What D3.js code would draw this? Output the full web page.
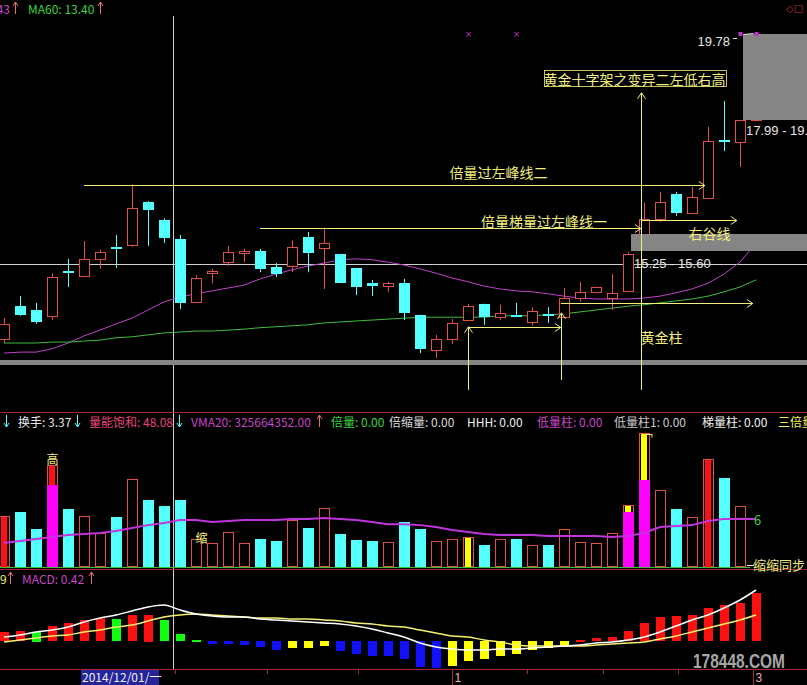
<!DOCTYPE html>
<html>
<head>
<meta charset="utf-8">
<script src="https://cdn.jsdelivr.net/npm/d3@7"></script>
<style>
body { margin: 0; background: #000; overflow: hidden; }
svg { display: block; }
text { font-family: "Noto Sans CJK SC", "Liberation Sans", sans-serif; }
</style>
</head>
<body>
<svg id="chart" width="807" height="685"></svg>
<script>
// daily candles (last one is the limit-up day hidden under the price box)
var open  = [13.40,14.09,14.01,13.89,14.83,14.72,15.08,15.33,15.37,16.27,15.89,15.50,14.18,14.78,15.01,15.20,15.24,14.91,14.93,15.54,15.31,15.18,14.89,14.57,14.51,14.57,13.91,13.17,13.40,13.80,14.14,13.86,13.91,13.76,13.93,13.86,14.26,14.39,14.26,14.41,15.58,15.91,16.44,16.04,16.35,17.56,17.52,17.99];
var high  = [13.84,14.30,14.16,14.78,15.08,15.45,15.27,15.58,16.64,16.29,15.93,15.58,14.74,14.87,15.35,15.29,15.29,14.99,15.47,15.64,15.73,15.18,14.89,14.64,14.60,14.66,13.91,13.49,13.82,14.14,14.14,14.12,14.16,14.07,14.07,14.47,14.60,14.49,14.76,15.22,16.25,16.48,16.48,16.58,17.84,18.38,17.98,19.78];
var low   = [13.32,13.89,13.72,13.80,14.49,14.72,14.87,14.89,15.33,15.35,15.41,14.03,14.18,14.57,14.93,15.01,14.80,14.70,14.80,14.80,14.45,14.57,14.32,14.30,14.39,13.80,13.11,13.01,13.30,13.78,13.70,13.80,13.86,13.68,13.74,13.86,14.18,14.39,14.01,14.41,15.58,15.85,15.98,16.04,16.35,17.33,17.00,17.99];
var close = [13.72,13.91,13.76,14.70,14.78,15.08,15.22,15.31,16.14,16.10,15.52,14.16,14.68,14.83,15.22,15.24,14.87,14.76,15.33,15.20,15.41,14.57,14.49,14.51,14.57,13.95,13.20,13.40,13.74,14.09,13.86,13.95,13.86,13.99,13.89,14.26,14.39,14.49,14.37,15.18,15.91,16.27,16.04,16.37,17.54,17.52,17.98,19.78];
var ma20  = [13.11,13.13,13.13,13.20,13.32,13.47,13.59,13.72,13.84,14.01,14.18,14.28,14.35,14.41,14.47,14.53,14.66,14.76,14.85,14.93,14.99,15.06,15.08,15.06,15.01,14.95,14.87,14.78,14.68,14.60,14.51,14.45,14.41,14.39,14.35,14.30,14.26,14.24,14.24,14.24,14.26,14.30,14.37,14.45,14.57,14.76,15.01,15.41];
var ma60  = [13.32,13.32,13.32,13.34,13.34,13.36,13.38,13.43,13.45,13.49,13.53,13.55,13.57,13.57,13.59,13.61,13.64,13.66,13.68,13.70,13.74,13.76,13.78,13.80,13.82,13.84,13.86,13.86,13.86,13.86,13.86,13.89,13.89,13.89,13.91,13.93,13.97,14.01,14.05,14.09,14.12,14.16,14.20,14.24,14.30,14.39,14.49,14.64];

// volume, millions of shares
var vol   = [361,389,269,722,411,361,241,354,623,474,432,474,198,170,248,170,198,184,333,276,418,234,191,184,177,319,269,184,198,212,156,198,198,156,156,269,177,170,241,439,949,545,411,354,765,630,432,null];
var vma20 = [170,184,198,212,227,234,241,255,276,297,312,333,333,319,326,333,333,333,340,340,347,340,333,319,304,304,297,283,262,248,234,227,227,227,219,219,219,219,212,219,241,283,290,297,326,340,340,340];
// volume signals: index -> kind, and level of the magenta part
var volSignal = { 0: "red", 3: "high", 29: "yellow", 39: "gold", 40: "gold", 44: "red" };
var volSplit  = { 3: 581, 39: 389, 40: 616 };

// MACD
var macd = [0.18,0.20,0.19,0.30,0.36,0.42,0.46,0.44,0.52,0.53,0.42,0.14,0.02,-0.05,-0.06,-0.07,-0.12,-0.18,-0.14,-0.13,-0.10,-0.20,-0.26,-0.29,-0.30,-0.36,-0.52,-0.54,-0.50,-0.40,-0.36,-0.30,-0.26,-0.18,-0.14,-0.08,0.02,0.06,0.08,0.20,0.36,0.48,0.50,0.52,0.66,0.72,0.76,0.96];
var dif  = [0.08,0.12,0.18,0.22,0.28,0.38,0.46,0.52,0.60,0.68,0.72,0.62,0.54,0.50,0.48,0.48,0.44,0.42,0.40,0.38,0.36,0.34,0.30,0.24,0.16,0.08,-0.04,-0.12,-0.16,-0.18,-0.18,-0.16,-0.16,-0.14,-0.12,-0.10,-0.08,-0.04,-0.02,0.02,0.08,0.18,0.30,0.42,0.52,0.66,0.82,1.02];
var dea  = [-0.02,0.02,0.06,0.10,0.12,0.18,0.22,0.28,0.32,0.40,0.48,0.52,0.54,0.52,0.50,0.48,0.46,0.46,0.44,0.44,0.42,0.40,0.36,0.34,0.30,0.28,0.22,0.16,0.10,0.08,0.02,-0.02,-0.08,-0.10,-0.10,-0.10,-0.10,-0.08,-0.06,-0.04,-0.02,0.04,0.10,0.18,0.26,0.34,0.42,0.52];

// drawn studies (bar index, price)
var guideLines = [
    { from: 5, to: 43.8, price: 16.62 },
    { from: 16, to: 39.8, price: 15.73 },
    { from: 39.8, to: 45.8, price: 15.89 },
    { from: 34.8, to: 46.8, price: 14.16 },
    { from: 29, to: 34.8, price: 13.66 }
];
var upArrows = [
    { at: 29, from: 12.34, to: 13.66 },
    { at: 34.8, from: 12.55, to: 13.95 },
    { at: 39.8, from: 12.34, to: 18.55 }
];
var notes = [
    { text: "倍量过左峰线二", at: 30.9, price: 16.89 },
    { text: "倍量梯量过左峰线一", at: 33.75, price: 15.87 },
    { text: "右谷线", at: 44.1, price: 15.62 },
    { text: "黄金柱", at: 41.1, price: 13.45 }
];
var boxNote = { text: "黄金十字架之变异二左低右高", at: 39.4, price: 18.84 };
var zones = [
    { from: 39.2, lo: 15.25, hi: 15.60, label: "15.25 - 15.60" },
    { from: 46.2, lo: 17.99, hi: 19.78, label: "17.99 - 19.78" },
    { from: -1, lo: 12.86, hi: 12.97, label: "" }
];
var limitMarks = [29, 32, 46, 47];

var dateLabel = "2014/12/01/一";
var axisMarks = [{ at: 28, label: "1" }, { at: 46.8, label: "3" }];

var RED = "#e0524a", CYAN = "#54ffff", YEL = "#f2ee7c";

var svg = d3.select("#chart");
svg.append("rect").attr("width", 807).attr("height", 685).attr("fill", "#000");

var x = d3.scaleLinear().domain([0, 47]).range([4, 756]);
var yP = d3.scaleLinear().domain([11.92, 20.49]).range([410, 0]);
var yV = d3.scaleLinear().domain([0, 1000]).range([567, 426]);
var yM = d3.scaleLinear().domain([-1, 1]).range([691, 591]);
var idx = d3.range(open.length);
var cx = function (i) { return Math.round(x(i)) + 0.5; };

//////////
// CROSSHAIR + PANEL FRAMES //
//////////
svg.append("line").attr("x1", 173.5).attr("x2", 173.5).attr("y1", 16).attr("y2", 670).attr("stroke", "#cfcfcf");
svg.append("line").attr("x1", 0).attr("x2", 807).attr("y1", 264.5).attr("y2", 264.5).attr("stroke", "#cfcfcf");
[412.5, 569.5, 669.5].forEach(function (y) {
    svg.append("line").attr("x1", 0).attr("x2", 807).attr("y1", y).attr("y2", y).attr("stroke", "#a3283a");
});

//////////
// PRICE PANEL //
//////////
var maLine = d3.line().x(function (d, i) { return x(i); }).y(function (d) { return yP(d); });
svg.append("path").datum(ma20).attr("d", maLine).attr("fill", "none").attr("stroke", "#c040c8");
svg.append("path").datum(ma60).attr("d", maLine).attr("fill", "none").attr("stroke", "#3cbc3c");

var candle = svg.append("g").selectAll("g").data(idx).enter().append("g");
candle.each(function (i) {
    var g = d3.select(this), c = cx(i);
    var top = Math.round(yP(Math.max(open[i], close[i]))), bot = Math.round(yP(Math.min(open[i], close[i])));
    if (close[i] >= open[i]) {
        g.append("line").attr("x1", c).attr("x2", c).attr("y1", yP(high[i])).attr("y2", top).attr("stroke", RED);
        g.append("line").attr("x1", c).attr("x2", c).attr("y1", bot).attr("y2", yP(low[i])).attr("stroke", RED);
        g.append("rect").attr("x", c - 5).attr("y", top + 0.5).attr("width", 10).attr("height", Math.max(bot - top, 0))
            .attr("fill", "#000").attr("stroke", RED);
    } else {
        g.append("line").attr("x1", c).attr("x2", c).attr("y1", yP(high[i])).attr("y2", yP(low[i])).attr("stroke", CYAN);
        g.append("rect").attr("x", c - 5.5).attr("y", top).attr("width", 11).attr("height", Math.max(bot - top, 2))
            .attr("fill", CYAN);
    }
});

// price zones
zones.forEach(function (z) {
    svg.append("rect").attr("x", Math.max(0, Math.round(x(z.from)))).attr("y", Math.round(yP(z.hi)))
        .attr("width", 807).attr("height", Math.round(yP(z.lo)) - Math.round(yP(z.hi))).attr("fill", "#858585");
});
svg.append("text").attr("x", Math.round(x(zones[0].from)) + 3).attr("y", 268).attr("fill", "#e6e6e6")
    .style("font-family", "Liberation Sans").style("font-size", "13px").text(zones[0].label);
svg.append("text").attr("x", Math.round(x(zones[1].from)) + 3).attr("y", 135).attr("fill", "#e6e6e6")
    .style("font-family", "Liberation Sans").style("font-size", "13px").text(zones[1].label);
svg.append("text").attr("x", 730).attr("y", yP(zones[1].hi) + 12).attr("text-anchor", "end").attr("fill", "#e6e6e6")
    .style("font-family", "Liberation Sans").style("font-size", "13px").text(zones[1].hi.toFixed(2));
svg.append("line").attr("x1", 733).attr("x2", 737).attr("y1", 38.5).attr("y2", 38.5).attr("stroke", "#e6e6e6");

// limit markers at the top price
limitMarks.forEach(function (i, k) {
    var mx = cx(i), my = Math.round(yP(zones[1].hi));
    if (k < 2) {
        svg.append("text").attr("x", mx).attr("y", my + 3).attr("text-anchor", "middle").attr("fill", "#c030c8")
            .style("font-family", "DejaVu Sans").style("font-size", "9px").text("×");
    } else {
        svg.append("rect").attr("x", mx - 2).attr("y", my - 2).attr("width", 4).attr("height", 4).attr("fill", "#c030c8");
    }
});
svg.append("line").attr("x1", cx(46) + 3).attr("x2", cx(47) - 3).attr("y1", 34.5).attr("y2", 33.5).attr("stroke", "#ddd");

// guide lines with arrows
guideLines.forEach(function (l) {
    var y = Math.round(yP(l.price)) + 0.5, x1 = x(l.from), x2 = x(l.to);
    svg.append("line").attr("x1", x1).attr("x2", x2).attr("y1", y).attr("y2", y).attr("stroke", YEL);
    svg.append("path").attr("d", "M" + (x2 - 6) + "," + (y - 4) + "L" + x2 + "," + y + "L" + (x2 - 6) + "," + (y + 4))
        .attr("fill", "none").attr("stroke", YEL);
});
upArrows.forEach(function (a) {
    var ax = Math.round(x(a.at)) + 0.5, y2 = yP(a.to);
    svg.append("line").attr("x1", ax).attr("x2", ax).attr("y1", yP(a.from)).attr("y2", y2).attr("stroke", YEL);
    svg.append("path").attr("d", "M" + (ax - 4) + "," + (y2 + 6) + "L" + ax + "," + y2 + "L" + (ax + 4) + "," + (y2 + 6))
        .attr("fill", "none").attr("stroke", YEL);
});
notes.forEach(function (n) {
    svg.append("text").attr("x", x(n.at)).attr("y", yP(n.price)).attr("text-anchor", "middle")
        .attr("dominant-baseline", "central").attr("fill", YEL).style("font-size", "14px").text(n.text);
});
var bx = x(boxNote.at), by = yP(boxNote.price);
svg.append("rect").attr("x", 544.5).attr("y", by - 8.5).attr("width", 182).attr("height", 16)
    .attr("fill", "#000").attr("stroke", YEL).attr("stroke-width", 0.8);
svg.append("text").attr("x", bx).attr("y", by).attr("text-anchor", "middle").attr("dominant-baseline", "central")
    .attr("fill", YEL).style("font-size", "14px").text(boxNote.text);

//////////
// HEADERS //
//////////
function arrowGlyph(px, yc, dir, color) {
    var y1 = yc - 6, y2 = yc + 6, tip = dir === "up" ? y1 : y2, s = dir === "up" ? 1 : -1;
    svg.append("line").attr("x1", px).attr("x2", px).attr("y1", y1).attr("y2", y2).attr("stroke", color);
    svg.append("path").attr("d", "M" + (px - 2.5) + "," + (tip + 4 * s) + "L" + px + "," + tip + "L" + (px + 2.5) + "," + (tip + 4 * s))
        .attr("fill", "none").attr("stroke", color);
}
function headerText(tx, yc, t, color) {
    svg.append("text").attr("x", tx).attr("y", yc).attr("dominant-baseline", "central")
        .attr("fill", color).style("font-size", "12px").text(t);
}
headerText(-20, 8, "14.43", "#c846c8");
arrowGlyph(15.5, 8, "up", "#e87070");
headerText(28, 8, "MA60: 13.40", "#3cd23c");
arrowGlyph(100.5, 8, "up", "#e87070");
svg.append("text").attr("x", 786).attr("y", 12).attr("fill", "#c03030").style("font-family", "DejaVu Sans")
    .style("font-size", "10px").text("◇□");

var volHeader = [
    { t: "换手: 3.37", x: 18, c: "#e8e8e8" },
    { t: "量能饱和: 48.08", x: 89, c: "#e8447c" },
    { t: "VMA20: 325664352.00", x: 191, c: "#c846c8" },
    { t: "倍量: 0.00", x: 331, c: "#3cd23c" },
    { t: "倍缩量: 0.00", x: 389, c: "#d8d8d8" },
    { t: "HHH: 0.00", x: 467, c: "#f0f0f0" },
    { t: "低量柱: 0.00", x: 537, c: "#c846c8" },
    { t: "低量柱1: 0.00", x: 614, c: "#c8c8c8" },
    { t: "梯量柱: 0.00", x: 702, c: "#f0f0f0" },
    { t: "三倍量", x: 778, c: "#f0f060" }
];
volHeader.forEach(function (h) { headerText(h.x, 421, h.t, h.c); });
arrowGlyph(6.5, 421, "down", CYAN);
arrowGlyph(77.5, 421, "down", CYAN);
arrowGlyph(179.5, 421, "down", CYAN);
arrowGlyph(319.5, 421, "up", "#e87070");

headerText(0, 578, "9", "#f0f060");
arrowGlyph(10.5, 578, "up", "#e87070");
headerText(22, 578, "MACD: 0.42", "#c846c8");
arrowGlyph(91.5, 578, "up", "#e87070");

//////////
// VOLUME PANEL //
//////////
var bars = svg.append("g").selectAll("g").data(idx.filter(function (i) { return vol[i] !== null; })).enter().append("g");
bars.each(function (i) {
    var g = d3.select(this), c = cx(i), top = Math.round(yV(vol[i])), base = 567;
    var kind = volSignal[i];
    if (close[i] < open[i] && !kind) {
        g.append("rect").attr("x", c - 5.5).attr("y", top).attr("width", 11).attr("height", base - top).attr("fill", CYAN);
        return;
    }
    g.append("rect").attr("x", c - 5).attr("y", top + 0.5).attr("width", 10).attr("height", base - top - 1)
        .attr("fill", "#000").attr("stroke", RED);
    if (kind === "red" || kind === "yellow") {
        g.append("rect").attr("x", c - 3.5).attr("y", top + 1).attr("width", 6).attr("height", base - top - 1)
            .attr("fill", kind === "red" ? "#ff1010" : "#ffff00");
    }
    if (kind === "high" || kind === "gold") {
        var mid = Math.round(yV(volSplit[i]));
        g.append("rect").attr("x", c - 3.5).attr("y", top + 1).attr("width", 6).attr("height", mid - top - 1)
            .attr("fill", kind === "high" ? "#ff1010" : "#ffff00");
        g.append("rect").attr("x", c - 5.5).attr("y", mid).attr("width", 11).attr("height", base - mid).attr("fill", "#ff00ff");
    }
});
svg.append("line").attr("x1", 0).attr("x2", 750).attr("y1", 567.5).attr("y2", 567.5).attr("stroke", "#3cbc3c");
svg.append("path").datum(vma20)
    .attr("d", d3.line().x(function (d, i) { return x(i); }).y(function (d) { return yV(d); }))
    .attr("fill", "none").attr("stroke", "#c034dc").attr("stroke-width", 2);

svg.append("text").attr("x", cx(3)).attr("y", yV(vol[3]) - 1).attr("text-anchor", "middle").attr("fill", YEL)
    .style("font-size", "12px").text("高");
svg.append("text").attr("x", cx(12) + 5).attr("y", yV(vol[12]) + 4).attr("text-anchor", "middle").attr("fill", YEL)
    .style("font-size", "12px").text("缩");
svg.append("path").attr("d", "M647,434.5h5v3").attr("fill", "none").attr("stroke", YEL);
svg.append("text").attr("x", 754).attr("y", yV(vma20[47])).attr("dominant-baseline", "central").attr("fill", "#3cd23c")
    .style("font-size", "13px").text("6");
svg.append("line").attr("x1", 747).attr("x2", 754).attr("y1", 565.5).attr("y2", 565.5).attr("stroke", "#eee");
svg.append("text").attr("x", 753).attr("y", 564).attr("dominant-baseline", "central").attr("fill", "#e8e87a")
    .style("font-size", "13px").text("缩缩同步");

//////////
// MACD PANEL //
//////////
function macdColor(i) {
    var prev = i > 0 ? macd[i - 1] : macd[i];
    if (macd[i] >= 0) return macd[i] >= prev ? "#ff1010" : "#10ff10";
    return macd[i] <= prev ? "#1010ff" : "#ffff00";
}
var zero = yM(0);
svg.append("g").selectAll("rect").data(idx).enter().append("rect")
    .attr("x", function (i) { return Math.round(x(i)) - 4; })
    .attr("y", function (i) { return Math.round(Math.min(yM(macd[i]), zero)); })
    .attr("width", 9)
    .attr("height", function (i) { return Math.max(2, Math.round(Math.abs(yM(macd[i]) - zero))); })
    .attr("fill", macdColor);
var mLine = d3.line().x(function (d, i) { return x(i); }).y(function (d) { return yM(d); }).curve(d3.curveMonotoneX);
svg.append("path").datum(dea).attr("d", mLine).attr("fill", "none").attr("stroke", "#f6f070").attr("stroke-width", 1.5);
svg.append("path").datum(dif).attr("d", mLine).attr("fill", "none").attr("stroke", "#ffffff").attr("stroke-width", 1.5);

//////////
// DATE AXIS //
//////////
[175, 267, 358, 527, 603, 678].forEach(function (t) {
    svg.append("line").attr("x1", t + 0.5).attr("x2", t + 0.5).attr("y1", 670).attr("y2", 674).attr("stroke", "#a3283a");
});
axisMarks.forEach(function (m) {
    var mx = Math.round(x(m.at)) + 0.5;
    svg.append("line").attr("x1", mx).attr("x2", mx).attr("y1", 670).attr("y2", 685).attr("stroke", "#a3283a");
    svg.append("text").attr("x", mx + 2).attr("y", 682).attr("fill", "#e8b0b0").style("font-family", "Liberation Sans")
        .style("font-size", "12px").text(m.label);
});
svg.append("rect").attr("x", 81).attr("y", 670).attr("width", 78).attr("height", 15).attr("fill", "#24249c");
svg.append("text").attr("x", 82).attr("y", 682).attr("fill", "#f0f0f0").style("font-size", "12px").text(dateLabel);

// watermark
svg.append("text").attr("x", 693).attr("y", 668).attr("textLength", 92).attr("lengthAdjust", "spacingAndGlyphs")
    .attr("fill", "#c4c4c4").attr("opacity", 0.85).style("font-family", "Liberation Sans")
    .style("font-weight", "bold").style("font-size", "21px").text("178448.COM");
</script>
</body>
</html>
